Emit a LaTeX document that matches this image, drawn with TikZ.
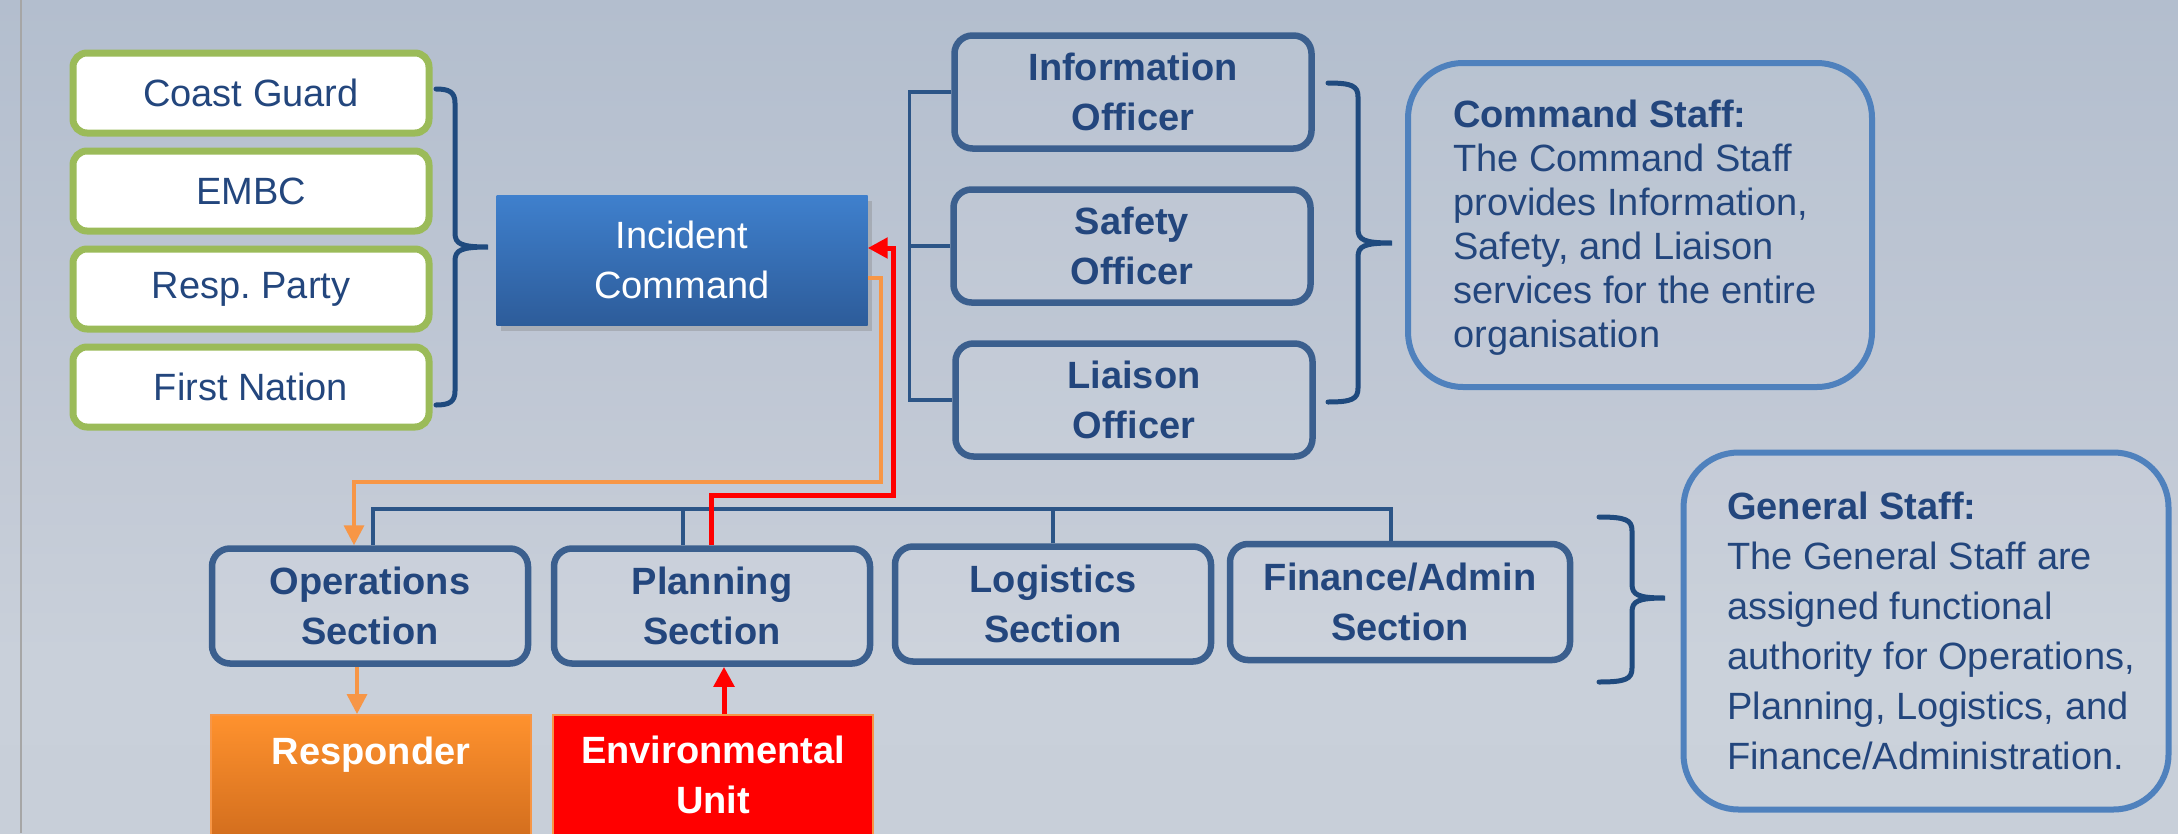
\documentclass[tikz,border=0pt]{standalone}
\usepackage{fontspec}
\setmainfont{Liberation Sans}
\usetikzlibrary{arrows.meta,shadows,calc}
\definecolor{txt}{HTML}{23467D}
\definecolor{bord}{HTML}{3B5F8E}
\definecolor{grn}{HTML}{9BBB59}
\definecolor{csb}{HTML}{4F81BD}
\definecolor{lin}{HTML}{2C5587}
\definecolor{brc}{HTML}{1F4A7E}
\definecolor{org}{HTML}{F79646}
\definecolor{bgA}{HTML}{B3BECE}
\definecolor{bgB}{HTML}{C3CAD6}
\definecolor{bgC}{HTML}{C9D0DA}
\definecolor{bgD}{HTML}{C8CFD9}
\definecolor{ict}{HTML}{3F80CD}
\definecolor{icb}{HTML}{2D5C9A}
\definecolor{rst}{HTML}{FF922E}
\definecolor{rsb}{HTML}{C9661A}
\newcommand\drawbrace[6]{%
 \draw[brace] (#1,#4) .. controls ({#2-6},#4) and (#2,{#4+3}) .. (#2,{#4+14}) -- (#2,{#5-14}) .. controls (#2,{#5-3}) and ({#2+6},#5) .. (#3,#5) .. controls ({#2+6},#5) and (#2,{#5+3}) .. (#2,{#5+14}) -- (#2,{#6-14}) .. controls (#2,{#6-3}) and ({#2-6},#6) .. (#1,#6);}
\begin{document}
\begin{tikzpicture}[x=1pt,y=-1pt,
  agency/.style={draw=grn,line width=7pt,fill=white,rounded corners=14pt,minimum width=356pt,minimum height=80pt,text=txt,font=\fontsize{38}{44}\selectfont,inner sep=0pt},
  officer/.style={draw=bord,line width=6.5pt,rounded corners=18pt,fill=white,fill opacity=0.08,text opacity=1,minimum width=357pt,minimum height=113pt,text=txt,font=\bfseries\fontsize{38}{50}\selectfont,align=center,inner sep=0pt},
  section/.style={officer,minimum width=316pt,minimum height=115pt},
  infobox/.style={draw=csb,line width=6pt,rounded corners=55pt,fill=white,fill opacity=0.05,inner sep=0pt},
  infotext/.style={anchor=north west,text=txt,align=left,inner sep=0pt},
  tree/.style={draw=lin,line width=3.5pt},
  brace/.style={draw=brc,line width=5pt,line cap=round},
  oline/.style={draw=org,line width=3.5pt},
  rline/.style={draw=red,line width=5pt},
  tip/.style={-{Triangle[length=20pt,width=20pt]}},
  wtext/.style={text=white,font=\bfseries\fontsize{38}{50}\selectfont,align=center,inner sep=0pt}
]
\clip (0,0) rectangle (2178,833);
\useasboundingbox (0,0) rectangle (2178,833);
% background
\shade[top color=bgA,bottom color=bgB] (0,0) rectangle (2178,480);
\shade[top color=bgB,bottom color=bgD,middle color=bgC] (0,480) rectangle (2178,833);
\draw[color=gray!70,line width=1.5pt] (21,0) -- (21,833);

% agencies
\node[agency] (cg) at (251,93) {Coast Guard};
\node[agency] (embc) at (251,191) {EMBC};
\node[agency] (rp) at (251,289) {Resp.\ Party};
\node[agency] (fn) at (251,387) {First Nation};
\drawbrace{436}{455}{488}{89}{247}{405}

% incident command
\node[shade,top color=ict,bottom color=icb,minimum width=371pt,minimum height=130pt,
      drop shadow={opacity=0.35,shadow xshift=4pt,shadow yshift=-6pt},
      text=white,font=\fontsize{38}{50}\selectfont,align=center,inner sep=0pt] (ic) at (682,260) {Incident\\Command};

% officers
\node[officer] (info) at (1133,92) {Information\\Officer};
\node[officer] (safe) at (1132,246) {Safety\\Officer};
\node[officer] (liai) at (1134,400) {Liaison\\Officer};
\draw[tree] (info.west) -- ++(-42,0) |- (liai.west);
\draw[tree] (safe.west) -- ++(-41,0);
\drawbrace{1328}{1358}{1392}{83}{243}{402}

% command staff
\node[infobox,minimum width=464pt,minimum height=324pt] (cs) at (1640,225) {};
\node[infotext,font=\fontsize{38}{44}\selectfont] (cstext) at (1453,100)
  {\textbf{Command Staff:}\\The Command Staff\\provides Information,\\Safety, and Liaison\\services for the entire\\organisation};

% sections
\node[section] (ops) at (370,606) {Operations\\Section};
\node[section] (pla) at (712,606) {Planning\\Section};
\node[section] (log) at (1053,604) {Logistics\\Section};
\node[section,minimum width=340pt,minimum height=116pt] (fin) at (1400,602) {Finance/Admin\\Section};
\coordinate (bus) at (0,509);
\draw[tree] ([xshift=3pt]ops.north) |- ([xshift=-9pt]fin.north |- bus) -- ([xshift=-9pt]fin.north);
\draw[tree] ([xshift=-29pt]pla.north) -- ([xshift=-29pt]pla.north |- bus);
\draw[tree] (log.north) -- (log.north |- bus);
\drawbrace{1599}{1632}{1665}{517}{598}{682}

% general staff
\node[infobox,minimum width=485pt,minimum height=357pt] (gs) at (1926,631) {};
\node[infotext,font=\fontsize{38}{50}\selectfont] (gstext) at (1727,492)
  {\textbf{General Staff:}\\The General Staff are\\assigned functional\\authority for Operations,\\Planning, Logistics, and\\Finance/Administration.};

% responder and environmental unit
\node[shade,top color=rst,bottom color=rsb,draw=org,line width=1.5pt,anchor=north,
      minimum width=320pt,minimum height=150pt,inner sep=0pt] (resp) at (371,714) {};
\node[wtext] (resptext) at (371,755) {Responder};
\node[fill=red,draw=org,line width=2pt,anchor=north,
      minimum width=320pt,minimum height=150pt,inner sep=0pt] (env) at (713,714) {};
\node[wtext] (envtext) at (713,775) {Environmental\\Unit};

% connectors
\coordinate (o1) at (881,482);
\draw[oline,tip] ([yshift=-18pt]ic.east) -| (o1) -| ([xshift=-16pt]ops.north);
\draw[oline,tip] ([xshift=-13pt]ops.south) -- ([xshift=-13pt]ops.south |- resp.north);
\coordinate (r1) at (893,495);
\draw[rline,tip] ([xshift=-1pt]pla.north) |- (r1) |- ([yshift=12pt]ic.east);
\draw[rline,tip] ([xshift=11pt]env.north) -- ([xshift=11pt]env.north |- pla.south);
\end{tikzpicture}
\end{document}
